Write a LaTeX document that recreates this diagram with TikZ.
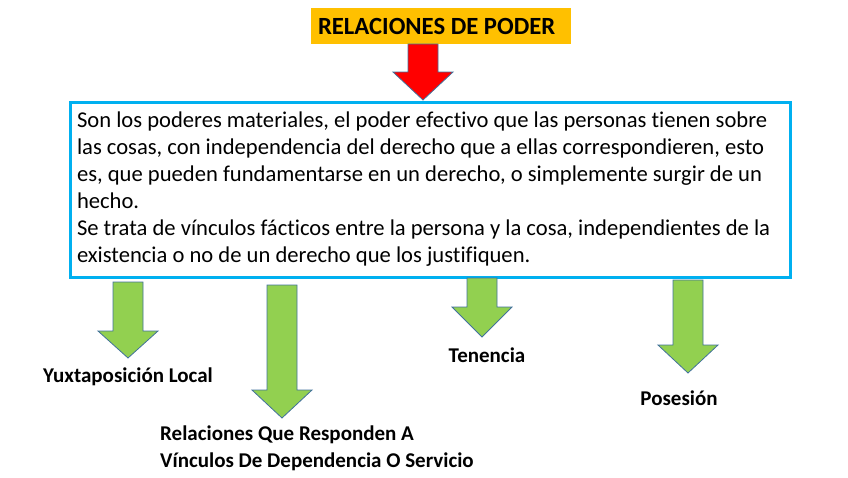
\documentclass[tikz,border=0pt]{standalone}
\usepackage{fontspec}
\setmainfont{Carlito}[Ligatures=NoCommon]
\usepackage{tikz}
\usetikzlibrary{positioning,calc}
\usepackage{xcolor}

\definecolor{titulo}{HTML}{FFC000}
\definecolor{cian}{HTML}{00B0F0}
\definecolor{verde}{HTML}{92D050}
\definecolor{borde}{HTML}{41719C}

% block arrow pointing down: x centre, top, end of shaft, tip, fill
\newcommand{\flecha}[5]{%
    \draw[bloque, fill=#5] (#1-15,#2) -- (#1+15,#2) -- (#1+15,#3) -- (#1+30,#3)
        -- (#1,#4) -- (#1-30,#3) -- (#1-15,#3) -- cycle;}

\begin{document}
\begin{tikzpicture}[
    x=1pt, y=-1pt,
    bloque/.style={draw=borde, line width=0.8pt, line join=miter},
    etiqueta/.style={font=\fontsize{21}{27}\selectfont\bfseries, inner sep=0pt, align=flush left},
    cuadro/.style={draw=cian, line width=3pt, fill=white, minimum width=720, minimum height=175,
        text width=706, inner xsep=7, align=flush left, font=\fontsize{22.6}{27}\selectfont}
]
    \useasboundingbox (0,0) rectangle (848,477);

    % Title
    \node (titulo) [fill=titulo, minimum width=260, minimum height=36, text width=246, inner xsep=7,
        align=flush left, font=\fontsize{24.7}{28}\selectfont\bfseries] at (441,26) {RELACIONES DE PODER};

    % Red arrow
    \flecha{423}{44}{72}{100}{red}

    % Definition
    \node (definicion) [cuadro] at (430,189.5) {Son los poderes materiales, el poder efectivo que las personas tienen sobre\\
    las cosas, con independencia del derecho que a ellas correspondieren, esto\\
    es, que pueden fundamentarse en un derecho, o simplemente surgir de un\\
    hecho.\\
    Se trata de vínculos fácticos entre la persona y la cosa, independientes de la\\
    existencia o no de un derecho que los justifiquen.};

    % Green arrows
    \flecha{128}{282}{331}{358}{verde}
    \flecha{282}{285}{390}{418}{verde}
    \flecha{482}{278}{307}{337}{verde}
    \flecha{688}{280}{345}{373}{verde}

    % Labels
    \node (yuxtaposicion) [etiqueta] at (128,377) {Yuxtaposición Local};
    \node (dependencia) [etiqueta, anchor=west] at (160,448.5) {Relaciones Que Responden A\\
    Vínculos De Dependencia O Servicio};
    \node (tenencia) [etiqueta] at (487,355) {Tenencia};
    \node (posesion) [etiqueta] at (679,398) {Posesión};

\end{tikzpicture}
\end{document}
